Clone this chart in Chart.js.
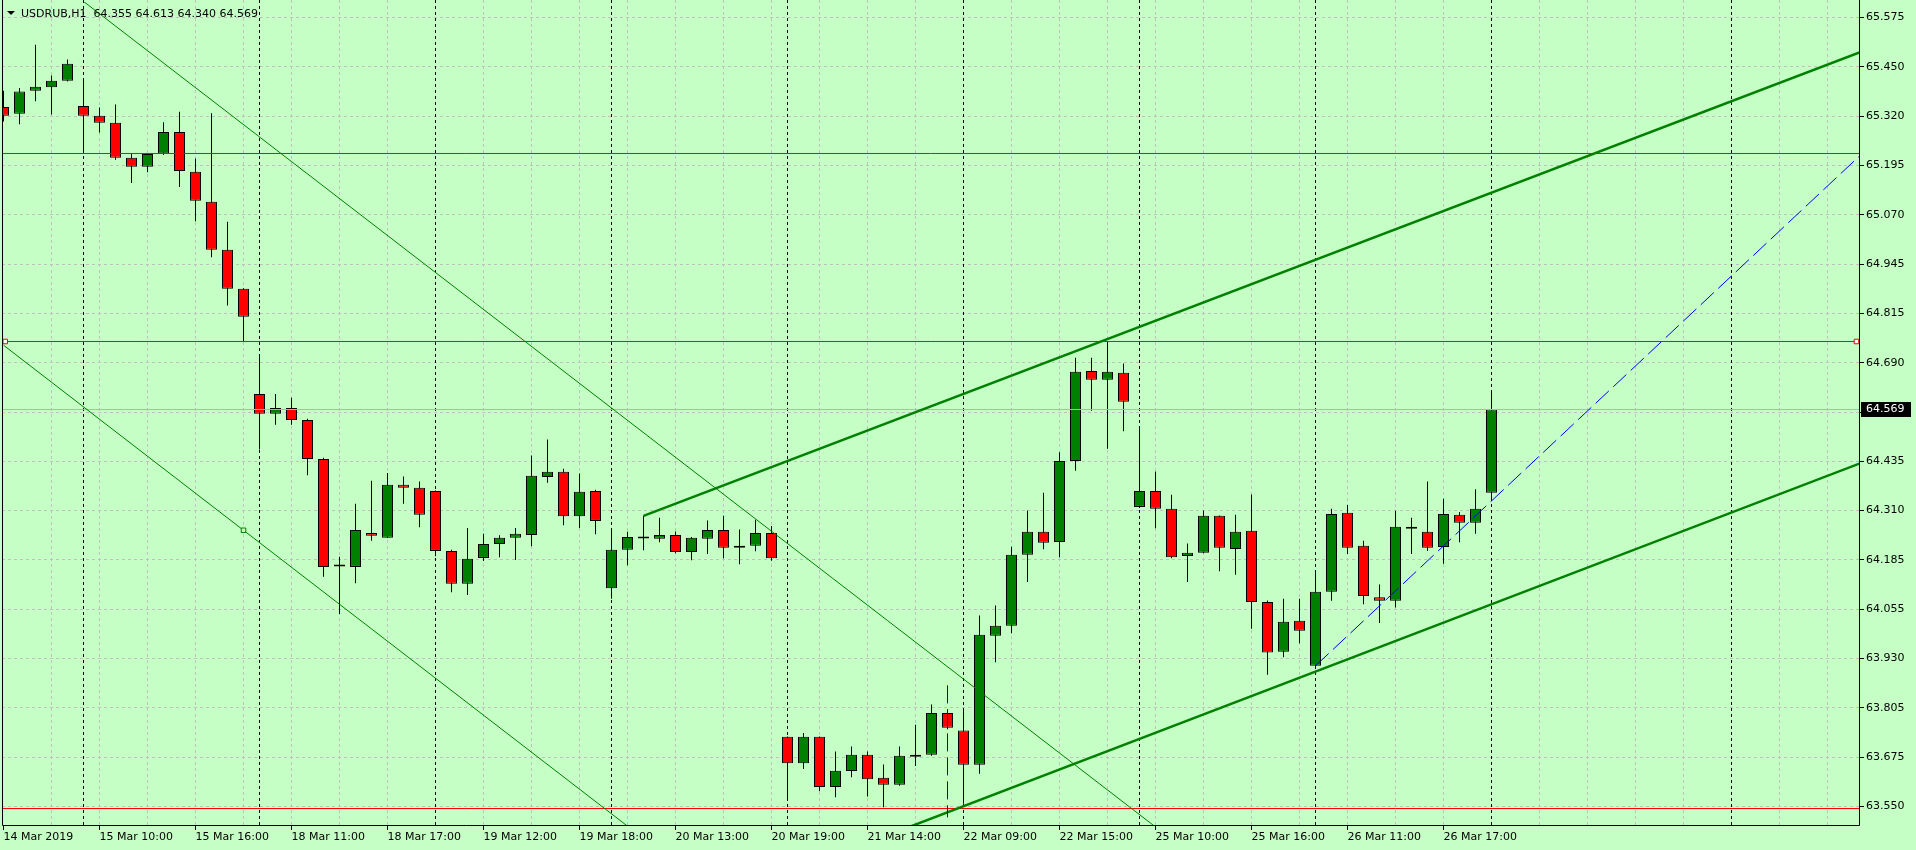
<!DOCTYPE html>
<html><head><meta charset="utf-8">
<script src="https://cdn.jsdelivr.net/npm/chart.js@4.4.1/dist/chart.umd.min.js"></script>
<style>html,body{margin:0;padding:0;background:#C6FFC6;overflow:hidden}canvas{display:block}</style>
</head><body>
<canvas id="c" width="1916" height="850" style="width:1916px;height:850px"></canvas>
<script>
// ---------- data ----------
const symbol = 'USDRUB,H1';
const openP = [65.345,65.328,65.387,65.396,65.413,65.348,65.323,65.305,65.215,65.192,
65.226,65.281,65.179,65.102,64.979,64.879,64.609,64.558,64.573,64.542,
64.442,64.166,64.165,64.252,64.240,64.376,64.368,64.360,64.206,64.122,
64.188,64.224,64.240,64.247,64.396,64.409,64.295,64.360,64.110,64.209,
64.238,64.237,64.247,64.203,64.237,64.260,64.214,64.219,64.252,63.729,
63.661,63.729,63.600,63.641,63.683,63.624,63.606,63.678,63.683,63.790,
63.745,63.657,63.988,64.014,64.196,64.255,64.229,64.437,64.668,64.645,
64.663,64.319,64.360,64.314,64.193,64.201,64.296,64.211,64.258,64.075,
63.947,64.027,63.911,64.101,64.304,64.219,64.087,64.078,64.268,64.255,
64.216,64.299,64.278,64.355];
const highP = [65.387,65.394,65.505,65.426,65.467,65.413,65.344,65.352,65.227,65.225,
65.306,65.333,65.213,65.329,65.051,64.880,64.707,64.609,64.599,64.545,
64.445,64.191,64.327,64.386,64.406,64.397,64.384,64.361,64.209,64.265,
64.250,64.246,64.265,64.451,64.492,64.417,64.405,64.363,64.263,64.255,
64.296,64.291,64.256,64.242,64.284,64.296,64.261,64.286,64.270,63.730,
63.739,63.730,63.691,63.704,63.691,63.658,63.704,63.760,63.812,63.799,
63.796,64.040,64.066,64.217,64.310,64.355,64.459,64.702,64.702,64.742,
64.687,64.519,64.410,64.350,64.225,64.310,64.297,64.299,64.351,64.079,
64.083,64.083,64.150,64.314,64.324,64.232,64.120,64.309,64.291,64.384,
64.340,64.306,64.364,64.613];
const lowP = [65.308,65.301,65.360,65.326,65.411,65.225,65.280,65.210,65.150,65.178,
65.222,65.140,65.052,64.960,64.836,64.743,64.466,64.530,64.530,64.400,
64.140,64.044,64.123,64.232,64.239,64.327,64.267,64.192,64.100,64.093,
64.180,64.190,64.183,64.218,64.381,64.272,64.265,64.249,64.083,64.169,
64.208,64.228,64.200,64.182,64.198,64.187,64.172,64.205,64.181,63.568,
63.646,63.589,63.574,63.625,63.576,63.548,63.603,63.654,63.680,63.748,
63.557,63.634,63.920,63.995,64.126,64.210,64.190,64.412,64.566,64.468,
64.513,64.316,64.264,64.187,64.126,64.200,64.154,64.145,64.006,63.888,
63.933,63.969,63.908,64.078,64.198,64.069,64.021,64.061,64.198,64.206,
64.173,64.228,64.250,64.340];
const closeP = [65.323,65.385,65.397,65.413,65.456,65.323,65.305,65.215,65.192,65.225,
65.281,65.181,65.105,64.979,64.879,64.807,64.558,64.573,64.542,64.442,
64.165,64.167,64.260,64.245,64.376,64.368,64.299,64.206,64.122,64.186,
64.224,64.240,64.250,64.399,64.409,64.295,64.358,64.283,64.209,64.242,
64.239,64.247,64.203,64.240,64.260,64.214,64.219,64.252,64.187,63.661,
63.729,63.600,63.642,63.683,63.620,63.606,63.680,63.683,63.790,63.752,
63.657,63.991,64.014,64.196,64.255,64.227,64.437,64.666,64.645,64.666,
64.589,64.360,64.314,64.190,64.201,64.296,64.214,64.255,64.075,63.945,
64.024,64.001,64.101,64.301,64.214,64.090,64.078,64.268,64.263,64.214,
64.301,64.278,64.314,64.569];

const xTickBars = [0,6,12,18,24,30,36,42,48,54,60,66,72,78,84,90];
const xTickLabels = ['14 Mar 2019','15 Mar 10:00','15 Mar 16:00','18 Mar 11:00','18 Mar 17:00',
  '19 Mar 12:00','19 Mar 18:00','20 Mar 13:00','20 Mar 19:00','21 Mar 14:00','22 Mar 09:00',
  '22 Mar 15:00','25 Mar 10:00','25 Mar 16:00','26 Mar 11:00','26 Mar 17:00'];
const yTickValues = [63.5500,63.6766,63.8031,63.9297,64.0563,64.1828,64.3094,64.4359,64.5625,
  64.6891,64.8156,64.9422,65.0688,65.1953,65.3219,65.4484,65.5750];
const yTickLabels = ['63.550','63.675','63.805','63.930','64.055','64.185','64.310','64.435','',
  '64.690','64.815','64.945','65.070','65.195','65.320','65.450','65.575'];
const gridBars = [3,6,9,12,15,18,21,24,27,30,33,36,39,42,45,48,51,54,57,60,63,66,69,72,75,78,
  81,84,87,90,93,96,99,102,105,108,111,114];
const separatorBars = [5,16,27,38,49,60,71,82,93,108];

const redLevels = [65.226, 64.7435, 63.5449];
const redAnchorBars = [0.11, 115.81];
const trendDown1 = [{x:4,y:65.648},{x:73,y:63.466}];
const trendDown2 = [{x:0,y:64.734},{x:15,y:64.259},{x:40,y:63.468}];
const channelUpper = [{x:40,y:64.296},{x:117,y:65.501}];
const channelLower = [{x:56,y:63.488},{x:117,y:64.446}];
const blueTrend = [{x:82,y:63.911},{x:117,y:65.258}];
const blueVertical = [{x:59,y:63.861},{x:59,y:63.522}];

// ---------- styling ----------
const BG = '#C6FFC6';
const GRID = '#C0C0C0';
Chart.defaults.font.family = '"DejaVu Sans", sans-serif';
Chart.defaults.font.size = 11;
Chart.defaults.color = '#000';

const idx = openP.map((_, i) => i);
const bodyData = idx.map(i => ({x: i, y: [openP[i], closeP[i]]}));
const wickData = idx.map(i => ({x: i, y: [lowP[i], highP[i]]}));
const bodyColor = idx.map(i => closeP[i] >= openP[i] ? '#008000' : '#FF0000');
const last = openP.length - 1;
const lastClose = closeP[last];
const XL = -1, XR = 117;

function lineDs(data, color, width, dash, order, extra) {
  return Object.assign({type: 'line', data, borderColor: color, borderWidth: width,
    borderDash: dash || [], pointRadius: 0, fill: false, tension: 0, order, clip: 0,
    borderCapStyle: 'butt'}, extra || {});
}

const redMid = redLevels[1];
const datasets = [
  {type: 'bar', data: wickData, backgroundColor: '#000', borderWidth: 0, barThickness: 1,
   grouped: false, inflateAmount: 0, order: 10},
  {type: 'bar', data: bodyData, backgroundColor: bodyColor, borderColor: '#000', borderWidth: 1,
   borderSkipped: false, barThickness: 11, grouped: false, inflateAmount: 0, minBarLength: 2, order: 9},
  lineDs([{x: XL, y: lastClose}, {x: XR, y: lastClose}], '#B4B4B4', 1, [], 8),
  lineDs([{x: XL, y: redLevels[0]}, {x: XR, y: redLevels[0]}], '#FF0000', 1, [], 7),
  lineDs([{x: XL, y: redMid}, {x: redAnchorBars[0], y: redMid}, {x: redAnchorBars[1], y: redMid}, {x: XR, y: redMid}],
    '#FF0000', 1, [], 7, {pointRadius: [0, 3.2, 3.2, 0], pointStyle: 'rect',
    pointBackgroundColor: '#FFFFFF', pointBorderColor: '#FF0000', pointBorderWidth: 1}),
  lineDs([{x: XL, y: redLevels[2]}, {x: XR, y: redLevels[2]}], '#FF0000', 1, [], 7),
  lineDs(trendDown1, '#008000', 1, [], 6),
  lineDs(trendDown2, '#008000', 1, [], 6, {pointRadius: [0, 3.2, 0], pointStyle: 'rect',
    pointBackgroundColor: BG, pointBorderColor: '#008000', pointBorderWidth: 1}),
  lineDs(channelUpper, '#008000', 2.5, [], 5),
  lineDs(channelLower, '#008000', 2.5, [], 5),
  lineDs(blueTrend, '#0000FF', 1, [18, 6], 4),
  lineDs(blueVertical, '#0000FF', 1, [18, 6], 4)
];

const mt4 = {
  id: 'mt4',
  beforeDraw(chart) {
    const {ctx, chartArea: a, scales: {x, y}} = chart;
    ctx.save();
    ctx.fillStyle = BG;
    ctx.fillRect(0, 0, chart.width, chart.height);
    ctx.lineWidth = 1;
    ctx.strokeStyle = GRID;
    ctx.setLineDash([3, 3]);
    yTickValues.forEach(v => {
      const py = Math.floor(y.getPixelForValue(v)) + 0.5;
      ctx.beginPath(); ctx.moveTo(a.left, py); ctx.lineTo(a.right, py); ctx.stroke();
    });
    gridBars.forEach(b => {
      const px = Math.floor(x.getPixelForValue(b)) + 0.5;
      ctx.beginPath(); ctx.moveTo(px, a.top - 2); ctx.lineTo(px, a.bottom); ctx.stroke();
    });
    ctx.strokeStyle = '#000';
    separatorBars.forEach(b => {
      const px = Math.floor(x.getPixelForValue(b)) + 0.5;
      ctx.beginPath(); ctx.moveTo(px, a.top - 2); ctx.lineTo(px, a.bottom); ctx.stroke();
    });
    ctx.restore();
  },
  afterDraw(chart) {
    const {ctx, chartArea: a, scales: {x, y}} = chart;
    ctx.save();
    ctx.lineWidth = 1;
    ctx.setLineDash([]);
    ctx.strokeStyle = '#000';
    // frame
    ctx.beginPath();
    ctx.moveTo(2.5, 0); ctx.lineTo(2.5, a.bottom - 0.5);
    ctx.lineTo(a.right + 0.5, a.bottom - 0.5); ctx.lineTo(a.right + 0.5, 0);
    ctx.stroke();
    // tick marks
    ctx.beginPath();
    xTickBars.forEach(b => {
      const px = Math.floor(x.getPixelForValue(b)) + 0.5;
      ctx.moveTo(px, a.bottom); ctx.lineTo(px, a.bottom + 4);
    });
    yTickValues.forEach(v => {
      const py = Math.floor(y.getPixelForValue(v)) + 0.5;
      ctx.moveTo(a.right + 1, py); ctx.lineTo(a.right + 5, py);
    });
    ctx.stroke();
    // current price box
    const cy = y.getPixelForValue(lastClose);
    ctx.fillStyle = '#000';
    ctx.fillRect(a.right + 2, Math.round(cy) - 7, 50, 15);
    ctx.fillStyle = '#FFFFFF';
    ctx.font = '11px "DejaVu Sans"';
    ctx.textBaseline = 'middle';
    ctx.textAlign = 'left';
    ctx.fillText(lastClose.toFixed(3), a.right + 7, Math.round(cy) + 0.5);
    // header
    ctx.fillStyle = '#000';
    ctx.beginPath(); ctx.moveTo(7, 11); ctx.lineTo(15, 11); ctx.lineTo(11, 15); ctx.closePath(); ctx.fill();
    ctx.textBaseline = 'alphabetic';
    const hdr = symbol + '  ' + [openP[last], highP[last], lowP[last], closeP[last]].map(v => v.toFixed(3)).join(' ');
    ctx.fillText(hdr, 21, 17);
    ctx.restore();
  }
};

new Chart(document.getElementById('c'), {
  type: 'bar',
  data: {datasets},
  plugins: [mt4],
  options: {
    responsive: false,
    devicePixelRatio: 1,
    animation: false,
    events: [],
    layout: {padding: {left: 2, top: 2, right: 0, bottom: 0}},
    plugins: {legend: {display: false}, tooltip: {enabled: false}, title: {display: false}},
    scales: {
      x: {
        type: 'linear', position: 'bottom', min: -0.09375, max: 115.96875, offset: false,
        grid: {display: false, drawTicks: false}, border: {display: false},
        afterBuildTicks(s) { s.ticks = xTickBars.map(v => ({value: v})); },
        afterFit(s) { s.height = 24; s.paddingLeft = 0; s.paddingRight = 0; },
        ticks: {align: 'start', maxRotation: 0, minRotation: 0, autoSkip: false, padding: 5,
          color: '#000', font: {family: '"DejaVu Sans"', size: 11},
          callback: (v, i) => xTickLabels[i]}
      },
      y: {
        type: 'linear', position: 'right', min: 63.5, max: 65.6148, beginAtZero: false,
        grid: {display: false, drawTicks: false}, border: {display: false},
        afterBuildTicks(s) { s.ticks = yTickValues.map(v => ({value: v})); },
        afterFit(s) { s.width = 57; s.paddingTop = 0; s.paddingBottom = 0; },
        ticks: {autoSkip: false, padding: 7, color: '#000', font: {family: '"DejaVu Sans"', size: 11},
          callback: (v, i) => yTickLabels[i]}
      }
    }
  }
});
</script>
</body></html>
